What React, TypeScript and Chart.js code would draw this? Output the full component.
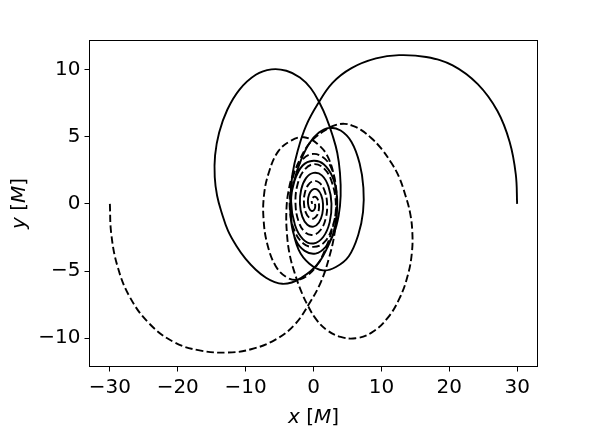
import React, { useEffect, useRef } from "react";
import { Chart, registerables } from "chart.js";

Chart.register(...registerables);

// ---- data ----
const xTicks = [-30, -20, -10, 0, 10, 20, 30];
const yTicks = [-10, -5, 0, 5, 10];
const xRange = [-33, 33];
const yRange = [-12.1, 12.15];

const solidX = [
  30.0, 29.8, 28.9, 27.1, 24.2, 20.5, 16.6, 12.6, 9.2, 5.6, 2.8, 0.6, -1.1, -2.3, -3.1, -3.4,
  -3.3, -2.6, -1.3, 0.3, 1.8, 3.0, 3.7,
  4.0, 3.9, 3.5, 2.8, 1.9, 0.9, -0.4, -2.0, -4.0, -6.2, -8.5, -10.9, -12.7, -13.9, -14.5, -14.55, -14.2, -13.5, -12.6, -11.4, -10.0, -8.5, -7.0, -5.8, -4.6, -3.2, -1.8, -0.4, 0.9, 2.0, 2.9, 3.4,
  3.45, 2.8, 1.5, 0.0, -1.6, -2.8, -3.35, -3.2,
  -2.2, -0.6, 1.4, 3.3, 5.2, 6.6, 7.3, 7.35, 6.8, 5.6, 4.0, 2.3, 0.8, -0.6, -1.8, -2.8, -3.3,
  -2.73, -1.53, 0.0, 1.43, 2.38, 2.65, 2.21, 1.23, 0.0, -1.1, -1.82, -2.0, -1.65, -0.9, 0.0, 0.8, 1.3, 1.4, 1.13, 0.6, 0.0, -0.5, -0.78, -0.8, -0.61, -0.3, 0.0, 0.2, 0.26, 0.2,
];
const solidY = [
  0.0, 2.2, 4.6, 6.9, 8.9, 10.3, 10.92, 11.06, 10.82, 10.1, 9.0, 7.4, 5.8, 4.0, 2.2, 0.4,
  -1.3, -2.7, -3.5, -3.7, -3.2, -2.2, -0.9,
  0.6, 2.3, 3.8, 5.1, 6.4, 7.5, 8.6, 9.4, 9.9, 10.0, 9.6, 8.5, 7.0, 5.3, 3.6, 2.0, 0.6, -0.7, -2.0, -3.1, -4.1, -4.9, -5.5, -5.8, -5.95, -5.85, -5.5, -5.0, -4.3, -3.3, -2.2, -0.9,
  0.6, 2.0, 2.95, 3.2, 2.85, 1.7, 0.2, -1.5,
  -3.4, -4.45, -4.95, -4.7, -3.9, -2.3, -0.6, 1.2, 3.0, 4.6, 5.45, 5.65, 5.3, 4.5, 3.3, 1.8, 0.2,
  -1.58, -2.64, -2.95, -2.47, -1.38, 0.0, 1.28, 2.12, 2.3, 1.91, 1.05, 0.0, -0.95, -1.56, -1.7, -1.39, -0.75, 0.0, 0.65, 1.04, 1.1, 0.87, 0.45, 0.0, -0.35, -0.52, -0.5, -0.35, -0.15, 0.0,
];
const dashedX = [
  -30.0, -29.8, -28.9, -27.1, -24.2, -20.5, -16.6, -12.6, -9.2, -5.6, -2.8, -0.6, 1.1, 2.3, 3.1, 3.4,
  3.3, 2.6, 1.3, -0.3, -1.8, -3.0, -3.7,
  -4.0, -3.9, -3.5, -2.8, -1.9, -0.9, 0.4, 2.0, 4.0, 6.2, 8.5, 10.9, 12.7, 13.9, 14.5, 14.55, 14.2, 13.5, 12.6, 11.4, 10.0, 8.5, 7.0, 5.8, 4.6, 3.2, 1.8, 0.4, -0.9, -2.0, -2.9, -3.4,
  -3.45, -2.8, -1.5, 0.0, 1.6, 2.8, 3.35, 3.2,
  2.2, 0.6, -1.4, -3.3, -5.2, -6.6, -7.3, -7.35, -6.8, -5.6, -4.0, -2.3, -0.8, 0.6, 1.8, 2.8, 3.3,
  2.73, 1.53, 0.0, -1.43, -2.38, -2.65, -2.21, -1.23, 0.0, 1.1, 1.82, 2.0, 1.65, 0.9, 0.0, -0.8, -1.3, -1.4, -1.13, -0.6, 0.0, 0.5, 0.78, 0.8, 0.61, 0.3, 0.0, -0.2, -0.26, -0.2,
];
const dashedY = [
  0.0, -2.2, -4.6, -6.9, -8.9, -10.3, -10.92, -11.06, -10.82, -10.1, -9.0, -7.4, -5.8, -4.0, -2.2, -0.4,
  1.3, 2.7, 3.5, 3.7, 3.2, 2.2, 0.9,
  -0.6, -2.3, -3.8, -5.1, -6.4, -7.5, -8.6, -9.4, -9.9, -10.0, -9.6, -8.5, -7.0, -5.3, -3.6, -2.0, -0.6, 0.7, 2.0, 3.1, 4.1, 4.9, 5.5, 5.8, 5.95, 5.85, 5.5, 5.0, 4.3, 3.3, 2.2, 0.9,
  -0.6, -2.0, -2.95, -3.2, -2.85, -1.7, -0.2, 1.5,
  3.4, 4.45, 4.95, 4.7, 3.9, 2.3, 0.6, -1.2, -3.0, -4.6, -5.45, -5.65, -5.3, -4.5, -3.3, -1.8, -0.2,
  1.58, 2.64, 2.95, 2.47, 1.38, 0.0, -1.28, -2.12, -2.3, -1.91, -1.05, 0.0, 0.95, 1.56, 1.7, 1.39, 0.75, 0.0, -0.65, -1.04, -1.1, -0.87, -0.45, 0.0, 0.35, 0.52, 0.5, 0.35, 0.15, 0.0,
];

const xTitleParts = [
  { t: "x", italic: true },
  { t: " [", italic: false },
  { t: "M", italic: true },
  { t: "]", italic: false },
];
const yTitleParts = [
  { t: "y", italic: true },
  { t: " [", italic: false },
  { t: "M", italic: true },
  { t: "]", italic: false },
];

const FAMILY = "'DejaVu Sans', 'Liberation Sans', sans-serif";
const FSIZE = 20;

const W = 598;
const H = 435;
const AREA = { left: 89.5, right: 537.5, top: 40.5, bottom: 366.5 };

function toPoints(xs: number[], ys: number[]) {
  return xs.map((x, i) => ({ x, y: ys[i] }));
}

function fmt(v: number) {
  return v < 0 ? "\u2212" + Math.abs(v) : String(v);
}

function drawParts(ctx: CanvasRenderingContext2D, parts: { t: string; italic: boolean }[], cx: number, by: number) {
  const fonts = parts.map((p) => `${p.italic ? "italic " : ""}${FSIZE}px ${FAMILY}`);
  let total = 0;
  const widths = parts.map((p, i) => {
    ctx.font = fonts[i];
    const w = ctx.measureText(p.t).width;
    total += w;
    return w;
  });
  let x = cx - total / 2;
  ctx.textBaseline = "alphabetic";
  ctx.textAlign = "left";
  parts.forEach((p, i) => {
    ctx.font = fonts[i];
    ctx.fillText(p.t, x, by);
    x += widths[i];
  });
}

const framePlugin = {
  id: "frameAndTitles",
  afterDraw(chart: any) {
    const { ctx, chartArea: a } = chart;
    ctx.save();
    ctx.strokeStyle = "#000";
    ctx.lineWidth = 1;
    ctx.strokeRect(a.left, a.top, a.right - a.left, a.bottom - a.top);
    ctx.fillStyle = "#000";
    drawParts(ctx, xTitleParts, (a.left + a.right) / 2, 423);
    ctx.translate(25, (a.top + a.bottom) / 2);
    ctx.rotate(-Math.PI / 2);
    drawParts(ctx, yTitleParts, 0, 0);
    ctx.restore();
  },
};

export default function App() {
  const ref = useRef<HTMLCanvasElement | null>(null);

  useEffect(() => {
    if (!ref.current) return;
    const common = {
      showLine: true,
      pointRadius: 0,
      borderColor: "#000",
      borderWidth: 1.9,
      tension: 0.4,
      fill: false,
    };
    const chart = new Chart(ref.current, {
      type: "scatter",
      data: {
        datasets: [
          { ...common, label: "solid", data: toPoints(solidX, solidY) },
          { ...common, label: "dashed", data: toPoints(dashedX, dashedY), borderDash: [7.5, 3.3] },
        ],
      },
      options: {
        responsive: false,
        animation: false,
        devicePixelRatio: 1,
        events: [],
        layout: {
          padding: { left: 0, top: AREA.top, right: W - AREA.right, bottom: 0 },
        },
        plugins: { legend: { display: false }, tooltip: { enabled: false } },
        scales: {
          x: {
            type: "linear",
            min: xRange[0],
            max: xRange[1],
            afterBuildTicks: (s: any) => {
              s.ticks = xTicks.map((v) => ({ value: v }));
            },
            afterFit: (s: any) => {
              s.height = H - AREA.bottom;
            },
            ticks: {
              callback: (v: any) => fmt(Number(v)),
              font: { family: FAMILY, size: FSIZE },
              color: "#000",
              padding: 4,
              maxRotation: 0,
              autoSkip: false,
            },
            grid: { drawOnChartArea: false, drawTicks: true, tickLength: 5, color: "#000", lineWidth: 1 },
            border: { display: false },
          },
          y: {
            type: "linear",
            min: yRange[0],
            max: yRange[1],
            afterBuildTicks: (s: any) => {
              s.ticks = yTicks.map((v) => ({ value: v }));
            },
            afterFit: (s: any) => {
              s.width = AREA.left;
            },
            ticks: {
              callback: (v: any) => fmt(Number(v)),
              font: { family: FAMILY, size: FSIZE },
              color: "#000",
              padding: 4,
              autoSkip: false,
            },
            grid: { drawOnChartArea: false, drawTicks: true, tickLength: 5, color: "#000", lineWidth: 1 },
            border: { display: false },
          },
        },
      },
      plugins: [framePlugin],
    } as any);
    return () => chart.destroy();
  }, []);

  return (
    <div style={{ position: "fixed", left: 0, top: 0, width: W, height: H, background: "#fff" }}>
      <canvas ref={ref} width={W} height={H} style={{ display: "block", width: W, height: H }} />
    </div>
  );
}
